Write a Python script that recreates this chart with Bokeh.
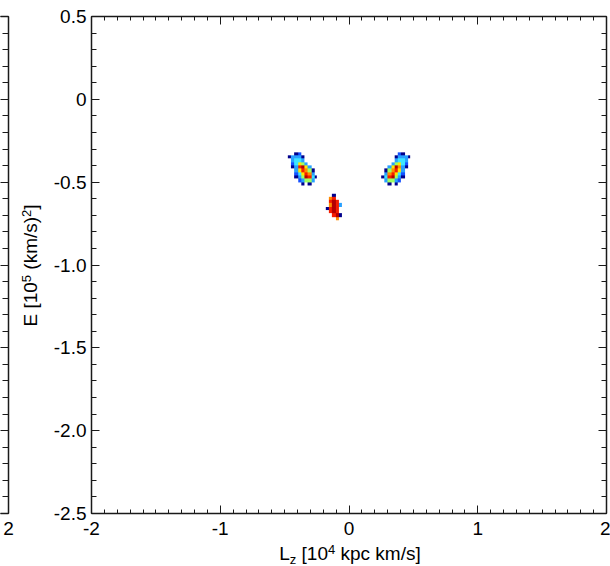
import numpy as np
from bokeh.plotting import figure
from bokeh.models import Range1d, LinearAxis, FixedTicker, LinearColorMapper
from bokeh.layouts import row, column
from bokeh.core.properties import value
from bokeh.embed import file_html
from bokeh.resources import INLINE

# ---------------- data ----------------
x_tick_values = [-2, -1, 0, 1, 2]
x_tick_labels = ["-2", "-1", "0", "1", "2"]
y_tick_values = [0.5, 0.0, -0.5, -1.0, -1.5, -2.0, -2.5]
y_tick_labels = ["0.5", "0", "-0.5", "-1.0", "-1.5", "-2.0", "-2.5"]

# 2D histogram bins of the (Lz, E) density map
bin_dx = 0.025
bin_dy = 0.02

# density levels per cell, rows listed from top (high E) to bottom
left_origin = (-0.475, -0.52)
left_counts = [
    [0, 0, 1, 2, 0, 0, 0, 0, 0],
    [1, 3, 3, 3, 1, 0, 0, 0, 0],
    [0, 3, 4, 4, 3, 0, 0, 0, 0],
    [0, 2, 4, 6, 5, 3, 0, 0, 0],
    [0, 1, 3, 8, 9, 6, 3, 0, 0],
    [0, 0, 3, 6, 8, 7, 5, 1, 0],
    [0, 0, 2, 4, 6, 8, 7, 3, 0],
    [0, 0, 1, 3, 5, 9, 8, 4, 1],
    [0, 0, 0, 2, 3, 5, 5, 3, 0],
    [0, 0, 0, 0, 1, 0, 1, 0, 0],
]

right_origin = (0.25, -0.52)
right_counts = [
    [0, 0, 0, 0, 0, 2, 1, 0, 0],
    [0, 0, 0, 0, 1, 3, 3, 3, 1],
    [0, 0, 0, 0, 3, 4, 4, 3, 0],
    [0, 0, 0, 3, 5, 6, 4, 2, 0],
    [0, 0, 3, 6, 9, 7, 3, 1, 0],
    [0, 1, 5, 7, 8, 6, 3, 0, 0],
    [0, 3, 7, 8, 6, 4, 2, 0, 0],
    [1, 4, 8, 9, 5, 3, 1, 0, 0],
    [0, 3, 5, 5, 3, 2, 0, 0, 0],
    [0, 0, 1, 0, 1, 0, 0, 0, 0],
]

mid_origin = (-0.18, -0.73)
mid_counts = [
    [0, 0, 1, 0, 0],
    [0, 7, 8, 0, 0],
    [0, 8, 9, 8, 0],
    [0, 7, 9, 8, 3],
    [1, 8, 9, 8, 0],
    [0, 8, 9, 8, 0],
    [0, 0, 8, 9, 1],
    [0, 0, 0, 7, 0],
]

density_colors = ["#00008c", "#1450ff", "#28a0ff", "#3ce6ff", "#a0ff60",
                  "#ffe600", "#ff8c00", "#f51e00", "#b40000"]

x_title_pieces = [("L", "main", 0), ("z", "small", -3.5), (" ", "main", 0), ("[10", "main", 0),
                  ("4", "small", 6), (" ", "main", 0), ("kpc km/s]", "main", 0)]
y_title_pieces = [("E", "main", 0), (" ", "main", 0), ("[10", "main", 0), ("5", "small", 6),
                  (" ", "main", 0), ("(km/s)", "main", 0), ("2", "small", 6), ("]", "main", 0)]

# ---------------- styling helpers ----------------
FONT = "Liberation Sans"
SIZES = {"main": 19, "small": 13}
ADV = {'L': .556, 'z': .5, ' ': .278, '[': .278, ']': .278, '1': .556, '0': .556,
       '4': .556, '5': .556, '2': .556, 'k': .5, 'p': .556, 'c': .5, 'm': .833,
       '/': .278, 's': .5, 'E': .667, '(': .333, ')': .333}
BASELINE_FIX = 0.35      # text glyphs sit this many em below the requested baseline

W, H = 610, 566          # page size
ROW_H = 543              # height of the panel row; the x title strip sits below
TOP_B, BOT_B = 16, 30    # frame borders shared by the panels of the row


def text_width(t, size):
    return sum(ADV.get(ch, .556) for ch in t) * size


def style_axis(ax, tick_in_major, tick_in_minor):
    ax.axis_line_color = "#1a1a1a"
    ax.axis_line_width = 1.5
    ax.major_tick_line_color = "#1a1a1a"
    ax.minor_tick_line_color = "#1a1a1a"
    ax.major_tick_line_width = 1
    ax.minor_tick_line_width = 1
    ax.major_tick_in = tick_in_major
    ax.major_tick_out = 0
    ax.minor_tick_in = tick_in_minor
    ax.minor_tick_out = 0
    ax.major_label_text_font = FONT
    ax.major_label_text_font_size = f"{SIZES['main']}px"
    ax.major_label_text_color = "black"


def bare_figure(w, h, xr, yr, left, right, top, bottom):
    f = figure(width=w, height=h, x_range=xr, y_range=yr, output_backend="svg",
               toolbar_location=None, x_axis_location=None, y_axis_location=None,
               title=None, min_border=0, min_border_left=left, min_border_right=right,
               min_border_top=top, min_border_bottom=bottom)
    f.outline_line_color = None
    f.background_fill_color = "white"
    f.border_fill_color = "white"
    f.grid.grid_line_color = None
    return f


x_minor = list(np.round(np.arange(-2.0, 2.0001, 0.1), 3))
y_minor = list(np.round(np.arange(-2.5, 0.5001, 0.1), 3))

# ---------------- main panel (page x 50..610) ----------------
p = bare_figure(560, ROW_H, Range1d(-2, 2), Range1d(-2.5, 0.5), 41, 4, TOP_B, BOT_B)

bottom = LinearAxis(ticker=FixedTicker(ticks=x_tick_values, minor_ticks=x_minor),
                    major_label_overrides=dict(zip(x_tick_values, x_tick_labels)))
style_axis(bottom, 8, 4)
bottom.major_label_standoff = 8
p.add_layout(bottom, "below")

top = LinearAxis(ticker=FixedTicker(ticks=x_tick_values, minor_ticks=x_minor),
                 major_label_overrides={v: "" for v in x_tick_values})
style_axis(top, 8, 4)
top.major_label_standoff = 0
p.add_layout(top, "above")

left = LinearAxis(ticker=FixedTicker(ticks=y_tick_values, minor_ticks=y_minor),
                  major_label_overrides=dict(zip(y_tick_values, y_tick_labels)))
style_axis(left, 8, 5)
left.major_label_standoff = 5
p.add_layout(left, "left")

right = LinearAxis(ticker=FixedTicker(ticks=y_tick_values, minor_ticks=y_minor),
                   major_label_overrides={v: "" for v in y_tick_values})
style_axis(right, 8, 5)
right.major_label_standoff = 0
p.add_layout(right, "right")

cmap = LinearColorMapper(palette=density_colors, low=0.5, high=len(density_colors) + 0.5,
                         nan_color=(0, 0, 0, 0))

for origin, counts in [(left_origin, left_counts), (right_origin, right_counts),
                       (mid_origin, mid_counts)]:
    g = np.flipud(np.array(counts, dtype=float))
    g[g == 0] = np.nan
    ny, nx = g.shape
    p.image(image=[g], x=origin[0], y=origin[1], dw=nx * bin_dx, dh=ny * bin_dy,
            color_mapper=cmap)


# ---------------- axis titles (with sub/superscripts), in page pixels ----------------
def draw_title(fig, pieces, center, baseline, vertical):
    total = sum(text_width(t, SIZES[s]) for t, s, _ in pieces)
    adv = 0.0
    for t, s, shift in pieces:
        size = SIZES[s]
        if t.strip():
            common = dict(text=[t], text_font=value(FONT), text_font_size=value(f"{size}px"),
                          text_align="left", text_baseline="alphabetic", text_color="black")
            fix = BASELINE_FIX * size
            if vertical:
                fig.text(x=[baseline - shift - fix], y=[center + total / 2 - adv],
                         angle=np.pi / 2, **common)
            else:
                fig.text(x=[center - total / 2 + adv], y=[baseline - shift - fix], **common)
        adv += text_width(t, size)


# y title strip: page x 14..50, frame spans page y TOP_B..ROW_H-BOT_B
yt = bare_figure(36, ROW_H, Range1d(14, 50), Range1d(ROW_H - BOT_B, TOP_B), 0, 0, TOP_B, BOT_B)
draw_title(yt, y_title_pieces, center=265, baseline=36.5, vertical=True)

# x title strip: page y ROW_H..H, frame spans page x 0..606
xt = bare_figure(W, H - ROW_H, Range1d(0, W - 4), Range1d(H, ROW_H), 0, 4, 0, 0)
draw_title(xt, x_title_pieces, center=349.5, baseline=560, vertical=False)

# ---------------- edge of the neighbouring panel (page x 0..14) ----------------
p0 = bare_figure(14, ROW_H, Range1d(1.94, 2.0), Range1d(-2.5, 0.5), 0, 6, TOP_B, BOT_B)

b0 = LinearAxis(ticker=FixedTicker(ticks=[2], minor_ticks=[]),
                major_label_overrides={2: "2"})
style_axis(b0, 8, 4)
b0.major_label_standoff = 8
p0.add_layout(b0, "below")

t0 = LinearAxis(ticker=FixedTicker(ticks=[2], minor_ticks=[]),
                major_label_overrides={2: ""})
style_axis(t0, 8, 4)
t0.major_label_standoff = 0
p0.add_layout(t0, "above")

r0 = LinearAxis(ticker=FixedTicker(ticks=y_tick_values, minor_ticks=y_minor),
                major_label_overrides={v: "" for v in y_tick_values})
style_axis(r0, 8, 6)
r0.major_label_standoff = 0
p0.add_layout(r0, "right")

layout = column(row(p0, yt, p), xt)
open("out.html", "w").write(file_html(layout, INLINE))
